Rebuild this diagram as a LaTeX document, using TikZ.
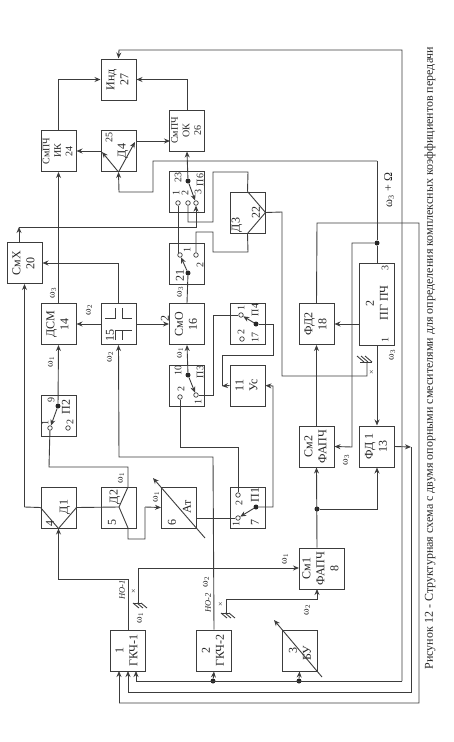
\documentclass[tikz,border=0pt]{standalone}
\usepackage{fontspec}
\setmainfont{Liberation Serif}
\usetikzlibrary{arrows.meta}
\definecolor{monTrait}{RGB}{60,60,60}
\newcommand{\vlab}[1]{\rotatebox{90}{\begin{tabular}{@{}c@{}}#1\end{tabular}}}
\newcommand{\om}[1]{ω\textsubscript{#1}}
\tikzset{
  wire/.style={draw=monTrait, line width=0.9pt},
  blockbox/.style={draw=monTrait, line width=1pt, fill=white, inner sep=0pt, minimum width=35pt, minimum height=41pt, align=center, text=black!85, font=\fontsize{12}{14}\selectfont},
  smallbox/.style={blockbox, font=\fontsize{10}{11.5}\selectfont},
  lbl/.style={rotate=90, inner sep=0pt, text=black!85, font=\fontsize{10}{11}\selectfont},
  lblbig/.style={lbl, font=\fontsize{12}{13}\selectfont},
  pin/.style={circle, draw=monTrait, line width=0.7pt, fill=white, inner sep=0pt, minimum size=4.5pt},
  dot/.style={circle, fill=black!85, inner sep=0pt, minimum size=5pt}
}
\begin{document}
\begin{tikzpicture}[x=1pt, y=-1pt, >={Stealth[length=6pt,width=5pt]}]
  \useasboundingbox (0,0) rectangle (454,742);

  % Blocs
  \node[blockbox] (Ind) at (118.5,79.5) {\vlab{Инд\\27}};
  \node[smallbox] (SmIK) at (58.5,151) {\vlab{СмПЧ\\ИК\\24}};
  \node[blockbox] (D4) at (118.5,151) {};
  \node[smallbox] (SmOK) at (187,130.5) {\vlab{СмПЧ\\ОК\\26}};
  \node[blockbox] (P6) at (187,192) {};
  \node[blockbox] (SmX) at (24.5,263) {\vlab{СмХ\\20}};
  \node[blockbox] (B21) at (187,263.5) {};
  \node[blockbox] (D3) at (247.5,212.5) {};
  \node[blockbox] (DSM) at (58.5,324) {\vlab{ДСМ\\14}};
  \node[blockbox] (B15) at (118.5,324) {};
  \node[blockbox] (SmO) at (187,324) {\vlab{СмО\\16}};
  \node[blockbox] (P4) at (247.5,324) {};
  \node[blockbox] (FD2) at (316.5,324) {\vlab{ФД2\\18}};
  \node[blockbox, minimum height=82pt] (PG) at (377,304) {};
  \node[blockbox] (P2) at (58.5,415.5) {};
  \node[blockbox] (P3) at (187,385.5) {};
  \node[blockbox] (Us) at (247.5,385.5) {\vlab{11\\Ус}};
  \node[blockbox] (Sm2) at (316.5,446.5) {\vlab{См2\\ФАПЧ}};
  \node[blockbox] (FD1) at (377,446.5) {\vlab{ФД 1\\13}};
  \node[blockbox] (D1) at (58.5,507.5) {};
  \node[blockbox] (D2) at (118.5,507.5) {};
  \node[blockbox] (At) at (179,507.5) {};
  \node[blockbox] (P1) at (247.5,507.5) {};
  \node[blockbox, minimum width=45pt] (Sm1) at (321.5,568.5) {\vlab{См1\\ФАПЧ\\8}};
  \node[blockbox] (G1) at (127.5,650.5) {\vlab{1\\ГКЧ-1}};
  \node[blockbox] (G2) at (214,650.5) {\vlab{2\\ГКЧ-2}};
  \node[blockbox] (BU) at (299.5,650.5) {};

  % Contacts
  \node[pin] (P6a) at (178,203) {};
  \node[pin] (P6b) at (188,203) {};
  \node[pin] (P6c) at (196,203) {};
  \node[dot] (P6d) at (188,181) {};
  \node[pin] (B21a) at (180,255) {};
  \node[pin] (B21b) at (196,255) {};
  \node[dot] (B21d) at (188,273) {};
  \node[pin] (P2a) at (50,428) {};
  \node[pin] (P2b) at (68,428) {};
  \node[dot] (P2d) at (58,406) {};
  \node[pin] (P3a) at (180,397) {};
  \node[pin] (P3b) at (196,395) {};
  \node[dot] (P3d) at (188,375) {};
  \node[pin] (P4a) at (241,315) {};
  \node[pin] (P4b) at (242,339) {};
  \node[dot] (P4d) at (256,324) {};
  \node[pin] (P1a) at (238,518) {};
  \node[pin] (P1b) at (238,495) {};
  \node[dot] (P1d) at (256,507) {};
  \node[dot] (Jb) at (377,243) {};
  \node[dot] (Jc) at (317,509) {};
  \node[dot] (Jd) at (213,681) {};
  \node[dot] (Je) at (299,681) {};
  \coordinate (SmXout) at (19,243);
  \coordinate (Ga) at (138,603);
  \coordinate (Gb) at (226,613);
  \coordinate (Gc) at (367,362);

  % Inscriptions des blocs
  \node[lbl] (t25) at (109,137) {25};
  \node[lblbig] (tD4) at (123,151) {Д4};
  \node[lbl] (t23) at (178,177) {23};
  \node[lbl] (tP6) at (200,180) {П6};
  \node[lbl] (tP6a) at (176,193) {1};
  \node[lbl] (tP6b) at (185,193) {2};
  \node[lbl] (tP6c) at (198,192) {3};
  \node[lblbig] (t21) at (180,275) {21};
  \node[lbl] (tB21a) at (187,250) {1};
  \node[lbl] (tB21b) at (200,265) {2};
  \node[lblbig] (tD3) at (237,225) {Д3};
  \node[lblbig] (t22) at (256,212) {22};
  \node[lblbig] (t15) at (110,335) {15};
  \node[lbl] (t17) at (255,337) {17};
  \node[lbl] (tP4) at (255,310) {П4};
  \node[lbl] (tP4a) at (241,308) {1};
  \node[lbl] (tP4b) at (241,332) {2};
  \node[lblbig] (t2) at (370,303) {2};
  \node[lblbig] (tPG) at (384,303) {ПГ ПЧ};
  \node[lbl] (tPGa) at (385,340) {1};
  \node[lbl] (tPGc) at (385,268) {3};
  \node[lbl] (t9) at (51,400) {9};
  \node[lblbig] (tP2) at (66,407) {П2};
  \node[lbl] (tP2a) at (45,423) {1};
  \node[lbl] (tP2b) at (70,422) {2};
  \node[lbl] (t10) at (178,370) {10};
  \node[lbl] (tP3) at (200,372) {П3};
  \node[lbl] (tP3a) at (198,402) {1};
  \node[lbl] (tP3b) at (181,389) {2};
  \node[lblbig] (tD1) at (65,507) {Д1};
  \node[lblbig] (t4) at (50,523) {4};
  \node[lblbig] (tD2) at (115,497) {Д2};
  \node[lblbig] (t5) at (112,522) {5};
  \node[lblbig] (t6) at (172,522) {6};
  \node[lblbig] (tAt) at (187,507) {Ат};
  \node[lblbig] (tP1) at (255,495) {П1};
  \node[lblbig] (t7) at (255,522) {7};
  \node[lbl] (tP1a) at (236,524) {1};
  \node[lbl] (tP1b) at (239,503) {2};
  \node[lblbig] (t3) at (293,650) {3};
  \node[lblbig] (tBU) at (307,653) {БУ};

  % Частоты
  \node[lbl] (w3a) at (53,293) {\om{3}};
  \node[lbl] (w1a) at (51,362) {\om{1}};
  \node[lbl] (w2a) at (89,310) {\om{2}};
  \node[lbl] (w2b) at (110,357) {\om{2}};
  \node[lbl] (w3b) at (180,292) {\om{3}};
  \node[lbl] (w1b) at (180,353) {\om{1}};
  \node[lblbig] (n2) at (165,318) {2};
  \node[lbl] (w1c) at (121,478) {\om{1}};
  \node[lbl] (w1d) at (156,497) {\om{1}};
  \node[lbl] (w1e) at (140,618) {\om{1}};
  \node[lbl] (w1f) at (285,559) {\om{1}};
  \node[lbl] (w2c) at (206,582) {\om{2}};
  \node[lbl] (w2d) at (307,610) {\om{2}};
  \node[lbl] (w3c) at (346,460) {\om{3}};
  \node[lbl] (w3d) at (392,355) {\om{3}};
  \node[lblbig] (w3e) at (389,190) {\om{3} + Ω};
  \node[lbl, font=\itshape\fontsize{8.5}{9}\selectfont] (No1) at (122,590) {НО-1};
  \node[lbl, font=\itshape\fontsize{8.5}{9}\selectfont] (No2) at (208,603) {НО-2};
  \node[lbl, font=\fontsize{8}{9}\selectfont] (xa) at (134,591) {×};
  \node[lbl, font=\fontsize{8}{9}\selectfont] (xb) at (221,604) {×};
  \node[lbl, font=\fontsize{8}{9}\selectfont] (xc) at (372,372) {×};

  % Соединения сверху
  \draw[wire, ->] (Je) -- (BU.south);
  \draw[wire, ->] (402,681) -- (402,50) -- (119,50) -- (Ind.north);
  \draw[wire, ->] (SmIK.north) |- (Ind.west);
  \draw[wire, ->] (SmOK.north) |- (Ind.east);
  \draw[wire, ->] (D4.south) -- (102,152);
  \draw[wire, ->] (D4.south) -- (135,142);
  \draw[wire, ->] (101,151) -- (SmIK.east);
  \draw[wire, ->] (136,141) -- (170,141);
  \draw[wire] (Jb) -- (PG.north) ;
  \draw[wire, ->] (377,161) -- (153,161) -- (153,192) -- (119,192) -- (D4.south);
  \draw[wire] (377,161) -- (Jb);
  \draw[wire, ->] (DSM.north) -- (SmIK.south);
  \draw[wire, ->] (P6d) -- (SmOK.south);
  \draw[wire, ->] (P6d) -- (P6c);
  \draw[wire] (P6a) -- (178,253);
  \draw[wire] (P6b) -- (188,222) -- (213,222) -- (213,172) -- (248,172) -- (D3.north);
  \draw[wire, ->] (19,227) -- (196,227) -- (P6c);
  \draw[wire, ->] (SmXout) -- (19,227);
  \draw[wire] (B21b) -- (196,232) -- (213,232) -- (213,252) -- (248,252) -- (D3.south);
  \draw[wire] (D3.north) -- (D3.east) -- (D3.south);
  \draw[wire, ->] (B21d) -- (B21a);
  \draw[wire] (B21d) -- (SmO.north);
  \draw[wire, ->] (B15.north) |- (SmX.east);
  \draw[wire, ->] (24.5,507) -- (SmX.south);
  \draw[wire] (24.5,507) -- (D1.west);

  % Середина
  \draw[wire, ->] (B15.west) -- (DSM.east);
  \draw[wire, ->] (B15.east) -- (SmO.west);
  \draw[wire, ->] (P2d) -- (DSM.south);
  \draw[wire, ->] (P2d) -- (P2a);
  \draw[wire] (P2a) -- (49,467) -- (128,467) -- (128,487);
  \draw[wire, ->] (P3d) -- (SmO.south);
  \draw[wire, ->] (P3d) -- (P3b);
  \draw[wire] (P3b) -- (213,395) -- (213,315) -- (P4a);
  \draw[wire] (P3a) -- (180,447) -- (238,447) -- (P1b);
  \draw[wire, ->] (P4d) -- (P4a);
  \draw[wire] (P4d) -- (273,324) -- (273,355) -- (222,355) -- (222,386);
  \draw[wire, ->] (Us.west) -- (222,386);
  \draw[wire, ->] (P1d) -- (P1a);
  \draw[wire, ->] (P1d) -- (273,507) -- (273,386) -- (Us.east);
  \draw[wire] (196,518) -- (P1a);
  \draw[wire, ->] (PG.west |- FD2) -- (FD2.east);
  \draw[wire, ->] (Sm2.north) -- (FD2.south);
  \draw[wire] (FD2.north) -- (317,223) -- (419,223) -- (419,703) -- (119,703);
  \draw[wire, ->] (119,703) -- (119,671);
  \draw[wire, ->] (377,345) -- (FD1.north);
  \draw[wire, ->] (FD1.east) -- (411,447);
  \draw[wire] (411,447) -- (411,692) -- (128,692);
  \draw[wire, ->] (128,692) -- (128,671);
  \draw[wire, ->] (Jb) -- (352,243) -- (352,447) -- (Sm2.east);
  \draw[wire, ->] (Sm1.north -| Jc) -- (Sm2.south);
  \draw[wire, ->] (Jc) -| (FD1.south);
  \draw[wire] (D3.east) -- (282,212) -- (282,376) -- (367,376) -- (Gc);

  % Снизу
  \draw[wire] (D1.south) -- (D1.west);
  \draw[wire] (D1.south) -- (D1.east);
  \draw[wire, ->] (128,630) -- (128,579) -- (58.5,579) -- (D1.south);
  \draw[wire] (D1.east) -- (119,507) -- (128,487);
  \draw[wire] (119,507) -- (128,528) -- (128,539) -- (145,539) -- (145,507);
  \draw[wire, ->] (145,507) -- (At.west);
  \draw[wire] (Ga) -- (138,568);
  \draw[wire, ->] (138,568) -- (299,568);
  \draw[wire, ->] (Gb) -- (226,599) -- (317,599) -- (317,589);
  \draw[wire, ->] (G2.north) -- (213,457) -- (119,457) -- (B15.south);
  \draw[wire, ->] (Jd) -- (G2.south);
  \draw[wire, ->] (402,681) -- (136,681) -- (136,671);

  % Заземления
  \draw[wire] (133,603) -- (141,603);
  \foreach \dx in {0,4,8} \draw[wire] (133+\dx,603) -- ++(6,5);
  \draw[wire] (221,613) -- (229,613);
  \foreach \dx in {0,4,8} \draw[wire] (221+\dx,613) -- ++(6,5);
  \draw[wire] (360,362) -- (372,362);
  \foreach \dx in {0,4,8} \draw[wire] (364+\dx,362) -- ++(-7,-6);

  % Регулировка
  \draw[wire, ->] (205,538) -- (153,478);
  \draw[wire, ->] (322,677) -- (274,620);

  % Знак блока 15
  \draw[wire] (105,318) -- (115,318) -- (115,308);
  \draw[wire] (122,308) -- (122,318) -- (132,318);
  \draw[wire] (115,340) -- (115,330) -- (122,330);
  \draw[wire] (132,330) -- (122,330) -- (122,340);

  % Подпись
  \node[rotate=90, inner sep=0pt, text=black!85, font=\fontsize{12}{14}\selectfont] (Legende) at (430,358) {Рисунок 12 - Структурная схема с двумя опорными смесителями для определения комплексных коэффициентов передачи};
\end{tikzpicture}
\end{document}
